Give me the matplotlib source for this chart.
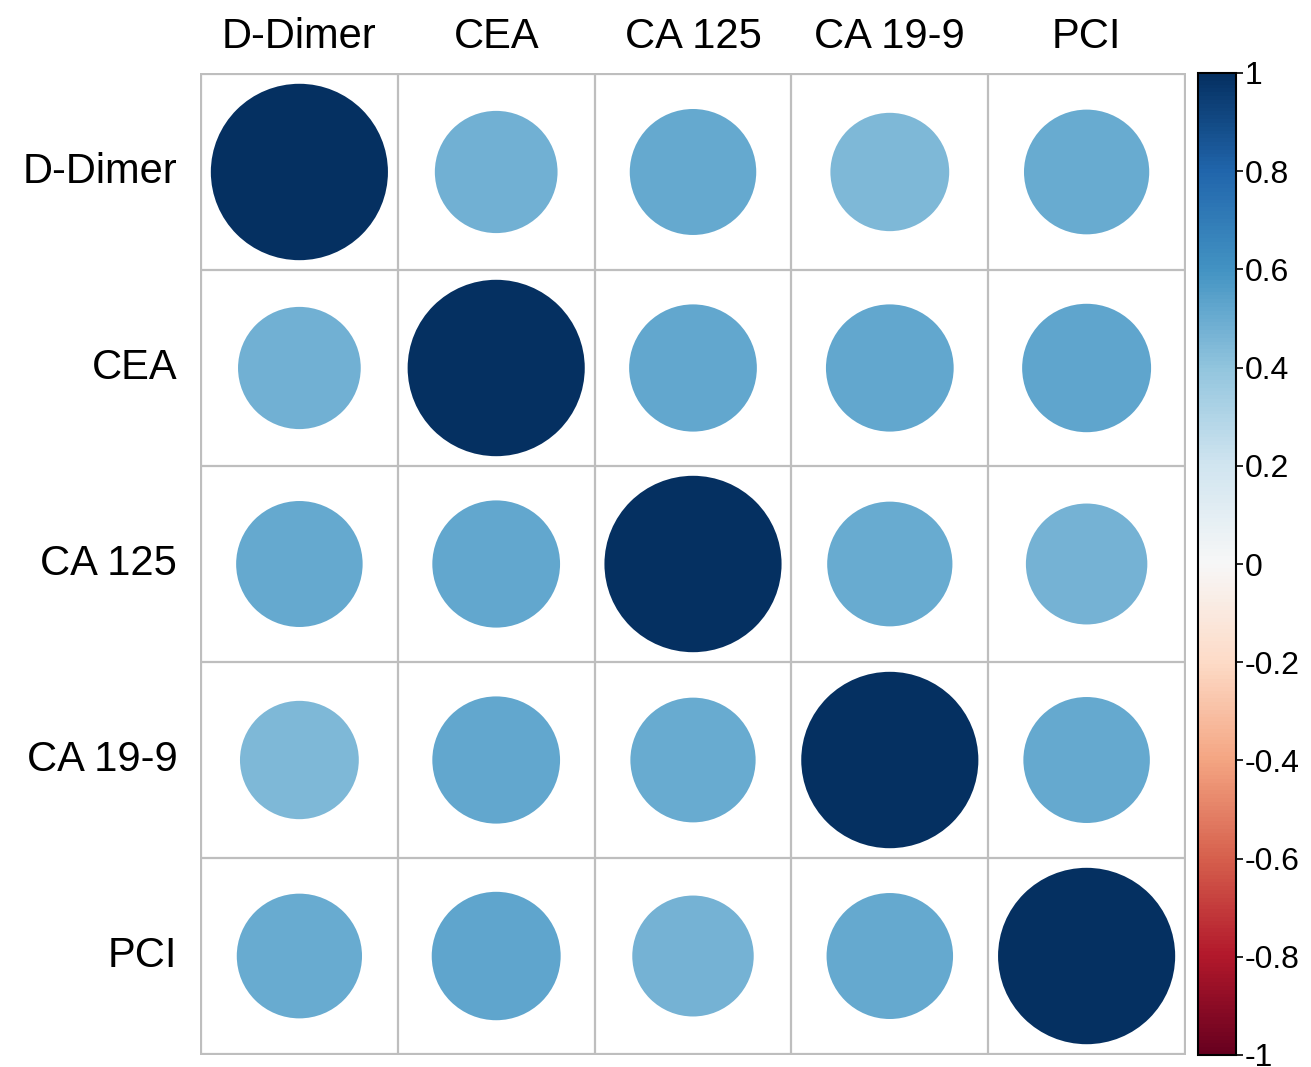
import numpy as np
import matplotlib.pyplot as plt
from matplotlib.patches import Circle
from matplotlib.cm import ScalarMappable
from matplotlib.colors import Normalize

plt.rcParams['font.family'] = ['Liberation Sans', 'DejaVu Sans']

labels = ['D-Dimer', 'CEA', 'CA 125', 'CA 19-9', 'PCI']
# correlation matrix
corr = np.array([
    [1.00, 0.48, 0.51, 0.45, 0.50],
    [0.48, 1.00, 0.52, 0.52, 0.53],
    [0.51, 0.52, 1.00, 0.50, 0.47],
    [0.45, 0.52, 0.50, 1.00, 0.51],
    [0.50, 0.53, 0.47, 0.51, 1.00],
])
cbar_ticks = [-1, -0.8, -0.6, -0.4, -0.2, 0, 0.2, 0.4, 0.6, 0.8, 1]
cbar_labels = ['-1', '-0.8', '-0.6', '-0.4', '-0.2', '0', '0.2', '0.4', '0.6', '0.8', '1']

W, H = 1311, 1067
fig = plt.figure(figsize=(W / 100, H / 100), dpi=100)
ax = fig.add_axes([200 / W, 12 / H, 986 / W, 982 / H])

cmap = plt.get_cmap('RdBu')
norm = Normalize(-1, 1)
n = len(labels)

for i in range(n):
    for j in range(n):
        r = corr[i, j]
        c = Circle((j + 0.5, n - i - 0.5), 0.45 * np.sqrt(abs(r)),
                   facecolor=cmap(norm(r)), edgecolor='none')
        ax.add_patch(c)

for k in range(n + 1):
    ax.axhline(k, color='#BEBEBE', lw=1.6, zorder=0)
    ax.axvline(k, color='#BEBEBE', lw=1.6, zorder=0)

ax.set_xlim(-0.005, n + 0.005)
ax.set_ylim(-0.005, n + 0.005)
ax.axis('off')

for j, lab in enumerate(labels):
    ax.text(j + 0.5, n + 0.13, lab, ha='center', va='baseline',
            fontsize=30, clip_on=False)
for i, lab in enumerate(labels):
    ax.text(-0.12, n - i - 0.5, lab, ha='right', va='center',
            fontsize=30, clip_on=False)

cax = fig.add_axes([1198 / W, 12 / H, 38 / W, 982 / H])
sm = ScalarMappable(norm=norm, cmap=cmap)
cb = fig.colorbar(sm, cax=cax, ticks=cbar_ticks)
cb.ax.set_yticklabels(cbar_labels)
cb.ax.tick_params(labelsize=23, length=5, width=1.2, pad=1)
cb.outline.set_linewidth(1.5)

fig.savefig('out.png', dpi=100)
